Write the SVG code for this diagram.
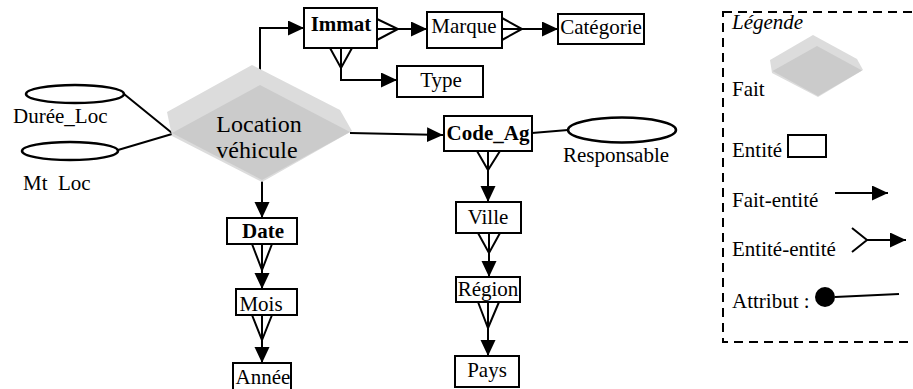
<svg xmlns="http://www.w3.org/2000/svg" width="913" height="389" viewBox="0 0 913 389">
<defs>
<style>
.box{fill:#fff;stroke:#000;stroke-width:2}
.ln{fill:none;stroke:#000;stroke-width:2}
.ell{fill:#fff;stroke:#000;stroke-width:2.5}
.t{font-family:'Liberation Serif','DejaVu Serif',serif;font-size:21px;fill:#000}
.c{text-anchor:middle}
.b{font-weight:bold}
.big{font-size:24px}
.light{fill:#dcdcdc}
.dark{fill:#cbcbcb}
</style>
<marker id="ah" markerUnits="userSpaceOnUse" markerWidth="18" markerHeight="16" refX="16" refY="7.5" orient="auto">
<path d="M0,0 L16,7.5 L0,15 z" fill="#000"/>
</marker>
</defs>
<rect width="913" height="389" fill="#fff"/>

<g id="connectors">
<path class="ln" d="M260,85 V28 H304" marker-end="url(#ah)"/>
<path class="ln" d="M377,19 L398,29 L377,40 M377,29 H427" marker-end="url(#ah)"/>
<path class="ln" d="M502,18 L522,29 L502,40 M502,29 H558" marker-end="url(#ah)"/>
<path class="ln" d="M330,48 L341,68 L352,48 M341,48 V80 H397" marker-end="url(#ah)"/>
<path class="ln" d="M350,133 L443,135" marker-end="url(#ah)"/>
<path class="ln" d="M532,133 L568,130"/>
<path class="ln" d="M124,94 L172,133 M118,150 L172,134"/>
<path class="ln" d="M262,180 V218" marker-end="url(#ah)"/>
<path class="ln" d="M252,244 L262,270 L272,244 M262,244 V289" marker-end="url(#ah)"/>
<path class="ln" d="M252,315 L262,340 L272,315 M262,315 V363" marker-end="url(#ah)"/>
<path class="ln" d="M477,151 L488,170 L500,151 M488,151 V202" marker-end="url(#ah)"/>
<path class="ln" d="M478,233 L489,253 L500,233 M489,233 V277" marker-end="url(#ah)"/>
<path class="ln" d="M478,302 L488,328 L499,302 M488,302 V356" marker-end="url(#ah)"/>
</g>

<g id="fait-location">
<polygon class="light" points="252,65 340,110 352,131 262,182 172,136 167,112"/>
<polygon class="dark" points="260,85 350,132 262,180 172,133"/>
<text class="t big c" x="259" y="132">Location</text>
<text class="t big c" x="257" y="158">véhicule</text>
</g>

<g id="attr-duree">
<ellipse class="ell" cx="75" cy="94" rx="49" ry="9"/>
<text class="t" x="13" y="123">Durée_Loc</text>
</g>
<g id="attr-mt">
<ellipse class="ell" cx="70" cy="151" rx="48" ry="9"/>
<text class="t" x="23" y="190" xml:space="preserve">Mt  Loc</text>
</g>

<g id="immat">
<rect class="box" x="304" y="8" width="73" height="40"/>
<text class="t b c" x="341" y="31">Immat</text>
</g>
<g id="marque">
<rect class="box" x="427" y="12" width="75" height="36"/>
<text class="t c" x="464" y="33">Marque</text>
</g>
<g id="categorie">
<rect class="box" x="558" y="14" width="86" height="30"/>
<text class="t c" x="601" y="34">Catégorie</text>
</g>
<g id="type">
<rect class="box" x="397" y="66" width="86" height="31"/>
<text class="t c" x="441" y="87">Type</text>
</g>
<g id="code-ag">
<rect class="box" x="444" y="116" width="88" height="35"/>
<text class="t b c" x="488" y="140">Code_Ag</text>
</g>
<g id="attr-responsable">
<ellipse class="ell" cx="622" cy="130" rx="54" ry="12.5"/>
<text class="t c" x="616" y="162">Responsable</text>
</g>
<g id="ville">
<rect class="box" x="456" y="202" width="65" height="31"/>
<text class="t c" x="488" y="224">Ville</text>
</g>
<g id="region">
<rect class="box" x="456" y="277" width="64" height="25"/>
<text class="t c" x="488" y="296">Région</text>
</g>
<g id="pays">
<rect class="box" x="455" y="356" width="64" height="31"/>
<text class="t c" x="487" y="377">Pays</text>
</g>
<g id="date">
<rect class="box" x="227" y="218" width="70" height="26"/>
<text class="t b c" x="263" y="238">Date</text>
</g>
<g id="mois">
<rect class="box" x="236" y="289" width="61" height="26"/>
<text class="t c" x="261" y="311">Mois</text>
</g>
<g id="annee">
<rect class="box" x="233" y="363" width="58" height="30"/>
<text class="t c" x="263" y="384">Année</text>
</g>

<g id="legende">
<rect x="723" y="12" width="220" height="330" fill="none" stroke="#000" stroke-width="2" stroke-dasharray="9 6"/>
<text class="t" x="732" y="29" font-style="italic">Légende</text>
<polygon class="light" points="813,35 857,59 863,70 818,97 772,73 770,60"/>
<polygon class="dark" points="817,46 862,70.5 818,96 772.5,71"/>
<text class="t" x="732" y="96">Fait</text>
<text class="t" x="732" y="157">Entité</text>
<rect class="box" x="788" y="135" width="38" height="22"/>
<text class="t" x="732" y="207">Fait-entité</text>
<path class="ln" d="M835,193 H888" marker-end="url(#ah)"/>
<text class="t" x="732" y="256">Entité-entité</text>
<path class="ln" d="M852,228 L867,240 L852,252 M867,240 H906" marker-end="url(#ah)"/>
<text class="t" x="732" y="308">Attribut :</text>
<circle cx="825" cy="297" r="10" fill="#000"/>
<path class="ln" d="M835,297 L899,294"/>
</g>
</svg>
